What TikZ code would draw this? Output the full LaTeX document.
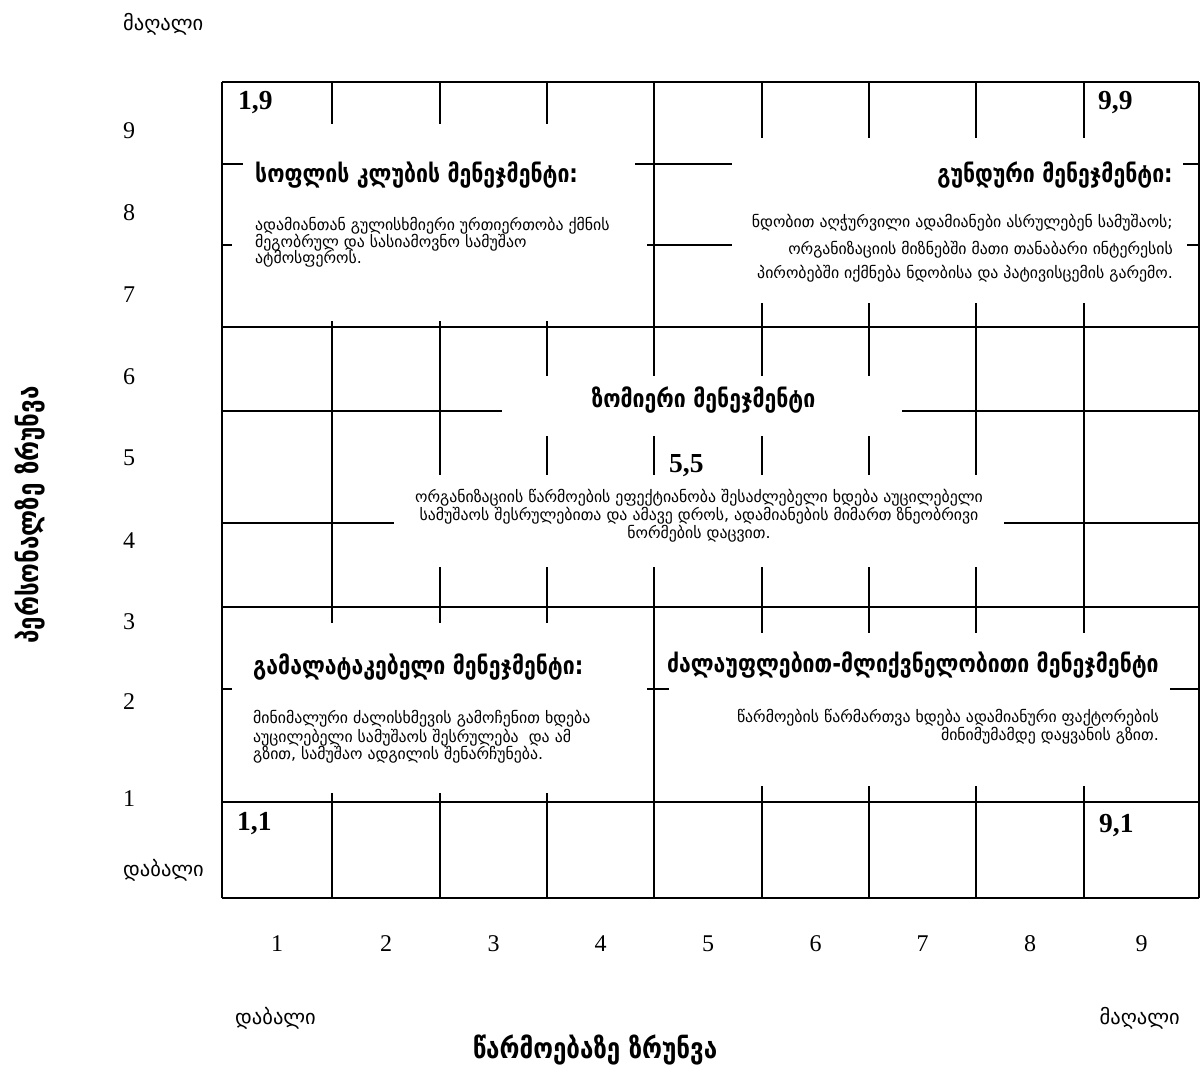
\documentclass[tikz,border=0pt]{standalone}
\usepackage{fontspec}
\setmainfont{Liberation Serif}
\newfontfamily\geo{DejaVu Sans}
\newfontfamily\geoc[FakeStretch=0.85]{DejaVu Sans}
\begin{document}
\begin{tikzpicture}[x=1pt,y=-1pt,
  gridline/.style={line width=1.3pt},
  cover/.style={fill=white},
  ttl/.style={font=\geoc\bfseries\fontsize{25}{28}\selectfont, inner sep=0pt},
  bdy/.style={font=\geo\fontsize{15.8}{18}\selectfont, inner sep=0pt},
  axw/.style={font=\geo\fontsize{20.5}{24}\selectfont, inner sep=0pt},
  axt/.style={font=\geoc\bfseries\fontsize{28.5}{31}\selectfont, inner sep=0pt},
  num/.style={font=\fontsize{24}{26}\selectfont, inner sep=0pt},
  corner/.style={font=\bfseries\fontsize{27.5}{30}\selectfont, inner sep=0pt}]
\fill[white] (0,0) rectangle (1200,1072);
\useasboundingbox (0,0) rectangle (1200,1072);
% grid
\foreach \x in {222,332,440,547,654,762,869,976,1084,1199}
  \draw[gridline] (\x,82) -- (\x,898);
\foreach \y in {82,164,245,327,411,523,607,689,802,898}
  \draw[gridline] (222,\y) -- (1199,\y);
% white covers
\fill[cover] (243,124) rectangle (635,200);
\fill[cover] (232,200) rectangle (647,321);
\fill[cover] (732,138) rectangle (1183,200);
\fill[cover] (732,200) rectangle (1187,303);
\fill[cover] (502,376) rectangle (902,436);
\fill[cover] (394,475) rectangle (1004,567);
\fill[cover] (232,623) rectangle (647,793);
\fill[cover] (669,633) rectangle (1170,786);
% top-left
\node[ttl, anchor=base west] (tlt) at (255,182) {სოფლის კლუბის მენეჯმენტი:};
\node[bdy, anchor=base west] (tlb1) at (255,230) {ადამიანთან გულისხმიერი ურთიერთობა ქმნის};
\node[bdy, anchor=base west] (tlb2) at (255,247) {მეგობრულ და სასიამოვნო სამუშაო};
\node[bdy, anchor=base west] (tlb3) at (255,263) {ატმოსფეროს.};
% top-right
\node[ttl, anchor=base east] (trt) at (1173,182) {გუნდური მენეჯმენტი:};
\node[bdy, anchor=base east] (trb1) at (1173,227) {ნდობით აღჭურვილი ადამიანები ასრულებენ სამუშაოს;};
\node[bdy, anchor=base east] (trb2) at (1173,254) {ორგანიზაციის მიზნებში მათი თანაბარი ინტერესის};
\node[bdy, anchor=base east] (trb3) at (1173,278) {პირობებში იქმნება ნდობისა და პატივისცემის გარემო.};
% middle
\node[ttl, anchor=base] (mt) at (703.5,407) {ზომიერი მენეჯმენტი};
\node[bdy, anchor=base] (mb1) at (699,502) {ორგანიზაციის წარმოების ეფექტიანობა შესაძლებელი ხდება აუცილებელი};
\node[bdy, anchor=base] (mb2) at (699,520) {სამუშაოს შესრულებითა და ამავე დროს, ადამიანების მიმართ ზნეობრივი};
\node[bdy, anchor=base] (mb3) at (699,538) {ნორმების დაცვით.};
% bottom-left
\node[ttl, anchor=base west] (blt) at (253,674) {გამალატაკებელი მენეჯმენტი:};
\node[bdy, anchor=base west] (blb1) at (253,723) {მინიმალური ძალისხმევის გამოჩენით ხდება};
\node[bdy, anchor=base west] (blb2) at (253,742) {აუცილებელი სამუშაოს შესრულება~ და ამ};
\node[bdy, anchor=base west] (blb3) at (253,759) {გზით, სამუშაო ადგილის შენარჩუნება.};
% bottom-right
\node[ttl, anchor=base east] (brt) at (1159,672) {ძალაუფლებით-მლიქვნელობითი მენეჯმენტი};
\node[bdy, anchor=base east] (brb1) at (1159,722) {წარმოების წარმართვა ხდება ადამიანური ფაქტორების};
\node[bdy, anchor=base east] (brb2) at (1159,740) {მინიმუმამდე დაყვანის გზით.};
% corner values
\node[corner, anchor=base west] (c19) at (238,109) {1,9};
\node[corner, anchor=base west] (c99) at (1098,109) {9,9};
\node[corner, anchor=base west] (c55) at (669,472) {5,5};
\node[corner, anchor=base west] (c11) at (237,830) {1,1};
\node[corner, anchor=base west] (c91) at (1099,832) {9,1};
% y axis
\node[axw, anchor=base west] (yhi) at (123,30) {მაღალი};
\node[axw, anchor=base west] (ylo) at (123,876) {დაბალი};
\foreach \v/\yy in {9/138,8/220,7/302,6/384,5/465,4/548,3/629,2/709,1/806}
  \node[num, anchor=base] (yn\v) at (129,\yy) {\v};
\node[axt, rotate=90, anchor=base] (ytitle) at (38,515) {პერსონალზე ზრუნვა};
% x axis
\foreach \v/\xx in {1/277,2/386,3/493.5,4/600.5,5/708,6/815.5,7/922.5,8/1030,9/1141.5}
  \node[num, anchor=base] (xn\v) at (\xx,951) {\v};
\node[axw, anchor=base west] (xlo) at (235,1024) {დაბალი};
\node[axw, anchor=base east] (xhi) at (1180,1024) {მაღალი};
\node[axt, anchor=base] (xtitle) at (595,1058) {წარმოებაზე ზრუნვა};
\end{tikzpicture}
\end{document}
